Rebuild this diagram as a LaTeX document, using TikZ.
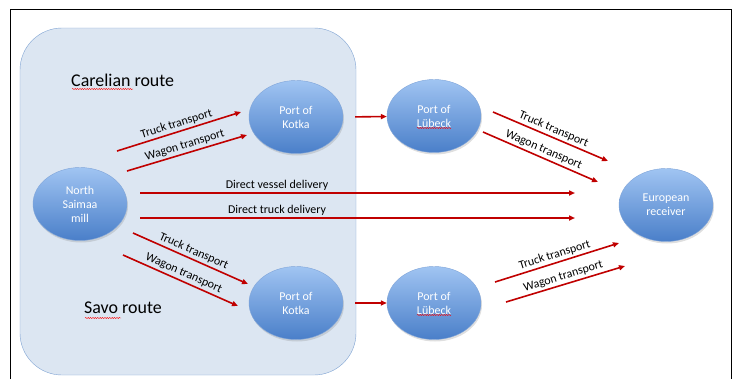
\documentclass[tikz,border=0pt]{standalone}
\usepackage{fontspec}
\setmainfont{Carlito}
\usetikzlibrary{arrows.meta, shapes.geometric, shadows, decorations.pathmorphing}
\definecolor{routefill}{HTML}{DCE6F2}
\definecolor{routeline}{HTML}{7FA3D3}
\definecolor{nodetop}{HTML}{A0C4F2}
\definecolor{nodebot}{HTML}{4A7FC9}
\definecolor{arrowred}{HTML}{C00000}
\tikzset{
  port/.style={ellipse, draw=nodebot!70, top color=nodetop, bottom color=nodebot,
    minimum width=94bp, minimum height=73bp, inner sep=0pt, align=center,
    text=white, font=\fontsize{12}{14}\selectfont,
    drop shadow={shadow xshift=1bp, shadow yshift=-2bp, opacity=0.25}},
  flow/.style={draw=arrowred, line width=1.6bp, -{Triangle[length=6bp, width=5bp]}},
  lbl/.style={font=\fontsize{12}{14}\selectfont, sloped, above, inner sep=2bp},
  routename/.style={font=\fontsize{18}{20}\selectfont, anchor=west, inner sep=0pt},
  spell/.style={draw=red, line width=0.4bp, decorate,
    decoration={snake, amplitude=0.6bp, segment length=2.4bp}}
}

\begin{document}
\begin{tikzpicture}[x=1bp, y=-1bp]
\useasboundingbox (0,0) rectangle (736,379);
\draw[line width=1bp] (10,379) -- (10,9) -- (731,9) -- (731,379);
\draw[fill=routefill, draw=routeline, rounded corners=42bp] (20,28) rectangle (356,375);

\node[routename] (carel) at (71,80) {Carelian route};
\node[routename] (savo) at (84,308) {Savo route};
\draw[spell] (72,89) -- (133,89);
\draw[spell] (85,318) -- (121,318);

\node[port] (mill) at (80,204) {North\\Saimaa\\mill};
\node[port] (kotkaA) at (296,117) {Port of\\Kotka};
\node[port] (kotkaB) at (296,303) {Port of\\Kotka};
\node[port] (lubA) at (434,116) {Port of\\Lübeck};
\node[port] (lubB) at (434,303) {Port of\\Lübeck};
\node[port] (recv) at (666,205) {European\\receiver};
\draw[spell] ([shift={(-17,12)}]lubA.center) -- ([shift={(17,12)}]lubA.center);
\draw[spell] ([shift={(-17,12)}]lubB.center) -- ([shift={(17,12)}]lubB.center);

% arrow ends
\coordinate (ctS) at (117,151);  \coordinate (ctE) at (241,112);
\coordinate (cwS) at (127,171);  \coordinate (cwE) at (247,135);
\coordinate (stS) at (133,233);  \coordinate (stE) at (248,284);
\coordinate (swS) at (123,255);  \coordinate (swE) at (238,306);
\coordinate (dvS) at (140,193);  \coordinate (dvE) at (575,193);
\coordinate (dtS) at (140,218);  \coordinate (dtE) at (575,218);
\coordinate (rtS) at (493,112);  \coordinate (rtE) at (608,161);
\coordinate (rwS) at (483,132);  \coordinate (rwE) at (598,182);
\coordinate (qtS) at (495,282);  \coordinate (qtE) at (619,243);
\coordinate (qwS) at (506,302);  \coordinate (qwE) at (625,266);

\draw[flow, shorten <=12bp] (kotkaA.east) -- (lubA);
\draw[flow, shorten <=12bp] (kotkaB.east) -- (lubB);
\draw[flow] (ctS) -- node[lbl] {Truck transport} (ctE);
\draw[flow] (cwS) -- node[lbl] {Wagon transport} (cwE);
\draw[flow] (stS) -- node[lbl] {Truck transport} (stE);
\draw[flow] (swS) -- node[lbl] {Wagon transport} (swE);
\draw[flow] (dvS) -- node[lbl, pos=0.315] {Direct vessel delivery} (dvE);
\draw[flow] (dtS) -- node[lbl, pos=0.315] {Direct truck delivery} (dtE);
\draw[flow] (rtS) -- node[lbl] {Truck transport} (rtE);
\draw[flow] (rwS) -- node[lbl] {Wagon transport} (rwE);
\draw[flow] (qtS) -- node[lbl] {Truck transport} (qtE);
\draw[flow] (qwS) -- node[lbl] {Wagon transport} (qwE);
\end{tikzpicture}
\end{document}
